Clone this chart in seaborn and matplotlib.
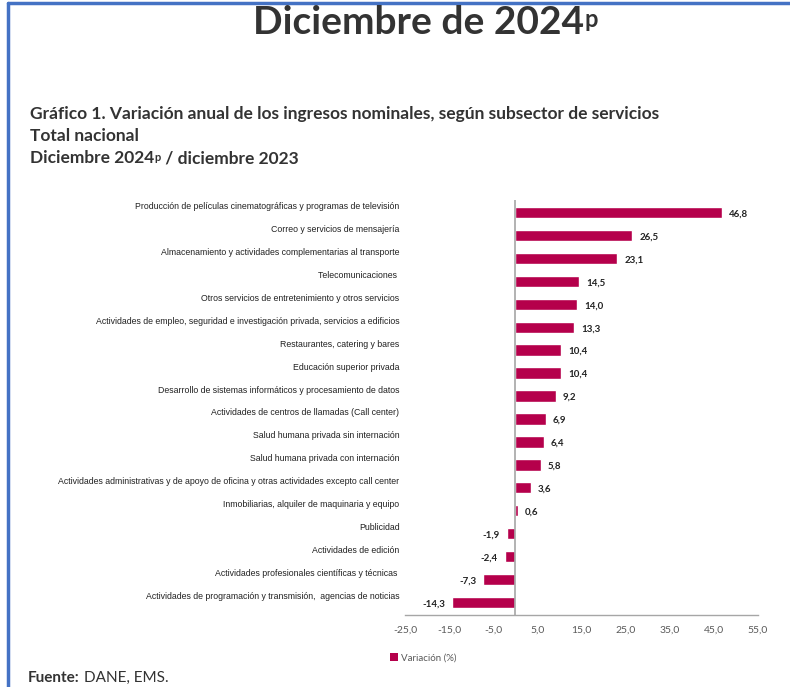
import matplotlib
matplotlib.use("Agg")
import matplotlib.pyplot as plt
import matplotlib.transforms as mtransforms
from matplotlib.patches import Rectangle
from matplotlib.lines import Line2D
from matplotlib.text import Annotation
import seaborn as sns
import pandas as pd

categories = [
    "Producción de películas cinematográficas y programas de televisión",
    "Correo y servicios de mensajería",
    "Almacenamiento y actividades complementarias al transporte",
    "Telecomunicaciones ",
    "Otros servicios de entretenimiento y otros servicios",
    "Actividades de empleo, seguridad e investigación privada, servicios a edificios",
    "Restaurantes, catering y bares",
    "Educación superior privada",
    "Desarrollo de sistemas informáticos y procesamiento de datos",
    "Actividades de centros de llamadas (Call center)",
    "Salud humana privada sin internación",
    "Salud humana privada con internación",
    "Actividades administrativas y de apoyo de oficina y otras actividades excepto call center",
    "Inmobiliarias, alquiler de maquinaria y equipo",
    "Publicidad",
    "Actividades de edición",
    "Actividades profesionales científicas y técnicas ",
    "Actividades de programación y transmisión,  agencias de noticias",
]
values = [46.8, 26.5, 23.1, 14.5, 14.0, 13.3, 10.4, 10.4, 9.2, 6.9, 6.4, 5.8, 3.6, 0.6,
          -1.9, -2.4, -7.3, -14.3]
xticks = [-25, -15, -5, 5, 15, 25, 35, 45, 55]
series_name = "Variación (%)"

BAR = "#B5004B"
DARK = "#333333"

sns.set_theme(style="white")
plt.rcParams["font.family"] = ["Lato", "DejaVu Sans"]

df = pd.DataFrame({"cat": categories, "val": values})

fig = plt.figure(figsize=(7.9, 6.87), dpi=100)
W, H = 790, 687


def fx(px):
    return px / W


def fy(py):
    return 1 - py / H


ax = fig.add_axes([fx(405), fy(615), fx(758) - fx(405), fy(200) - fy(615)])
sns.barplot(data=df, x="val", y="cat", color=BAR, saturation=1, width=0.5, ax=ax,
            orient="h")
n = len(categories)
ax.set_ylim(n - 0.45, -0.55)
ax.set_xlim(-25, 55)
ax.set_xticks(xticks)
ax.set_xticklabels([f"{t:.1f}".replace(".", ",") for t in xticks], fontsize=7.5,
                   color="#595959")
ax.set_xlabel("")
ax.set_ylabel("")
for s in ["top", "right", "left"]:
    ax.spines[s].set_visible(False)
ax.spines["bottom"].set_color("#A6A6A6")
ax.spines["bottom"].set_linewidth(1.0)
ax.axvline(0, color="#A6A6A6", lw=1.2, zorder=3)
ax.tick_params(axis="both", length=0)
ax.tick_params(axis="x", pad=8)
ax.tick_params(axis="y", pad=4)
ax.set_yticks(range(n))
ax.set_yticklabels(categories, fontsize=6.3, family=["Liberation Sans", "DejaVu Sans"],
                   color="#222222")
offset = mtransforms.ScaledTranslation(0, 7 / 100, fig.dpi_scale_trans)
for lab in ax.get_yticklabels():
    lab.set_transform(lab.get_transform() + offset)

for i, v in enumerate(values):
    txt = f"{v:.1f}".replace(".", ",")
    if v >= 0:
        ax.annotate(txt, (v, i), xytext=(5, -1), textcoords="offset points",
                    ha="left", va="center", fontsize=7, fontweight="bold", color="#222222")
    else:
        ax.annotate(txt, (v, i), xytext=(-5, -1), textcoords="offset points",
                    ha="right", va="center", fontsize=7, fontweight="bold", color="#222222")

# legend
leg_handle = Rectangle((0, 0), 1, 1, facecolor=BAR, edgecolor="none")
fig.legend([leg_handle], [series_name], loc="center left",
           bbox_to_anchor=(fx(386), fy(658)), frameon=False, fontsize=7,
           handlelength=0.8, handleheight=0.8, handletextpad=0.3, borderaxespad=0)
for t in fig.legends[0].get_texts():
    t.set_color("#595959")

# title
t1 = fig.text(fx(253), fy(22), "Diciembre de 2024", fontsize=28, fontweight="bold",
              color=DARK, ha="left", va="center")
fig.add_artist(Annotation("p", xy=(1.0, 0.9), xycoords=t1, xytext=(0, 0),
                          textcoords="offset points", ha="left", va="top", fontsize=17,
                          fontweight="bold", color=DARK))

SUB = 12.5
fig.text(fx(30), fy(114), "Gráfico 1. Variación anual de los ingresos nominales, según subsector de servicios",
         fontsize=SUB, fontweight="bold", color=DARK, ha="left", va="center")
fig.text(fx(30), fy(136), "Total nacional", fontsize=SUB, fontweight="bold",
         color=DARK, ha="left", va="center")
s1 = fig.text(fx(30), fy(158), "Diciembre 2024", fontsize=SUB, fontweight="bold",
              color=DARK, ha="left", va="center")
s2 = Annotation("p", xy=(1.0, 0.9), xycoords=s1, xytext=(0.3, 0), textcoords="offset points",
                ha="left", va="top", fontsize=8, fontweight="bold", color=DARK)
fig.add_artist(s2)
s3 = Annotation(" / diciembre 2023", xy=(1.0, 0.5), xycoords=(s2, s1), xytext=(0, 0),
                textcoords="offset points", ha="left", va="center", fontsize=SUB,
                fontweight="bold", color=DARK)
fig.add_artist(s3)

f1 = fig.text(fx(28), fy(678), "Fuente:", fontsize=11, fontweight="bold", color=DARK,
              ha="left", va="center")
f2 = Annotation("DANE, EMS.", xy=(1.0, 0.5), xycoords=f1, xytext=(3, 0),
                textcoords="offset points", ha="left", va="center", fontsize=11, color=DARK)
fig.add_artist(f2)

# frame lines
fig.add_artist(Line2D([fx(8), 1], [fy(3), fy(3)], color="#4472C4", lw=2.5))
fig.add_artist(Line2D([fx(8), fx(8)], [fy(3), 0], color="#4472C4", lw=2.5))

fig.savefig("out.png", dpi=100)
